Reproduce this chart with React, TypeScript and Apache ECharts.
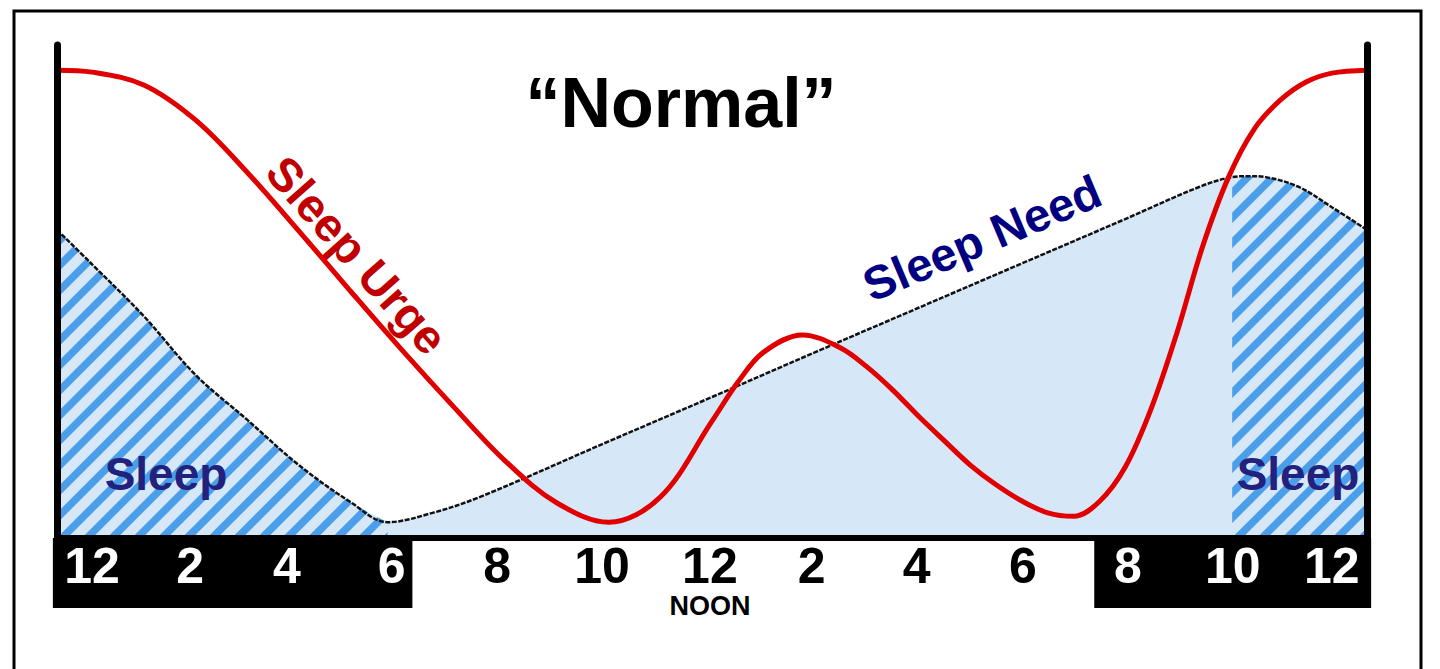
import React, { useEffect, useRef } from 'react';
import * as echarts from 'echarts';

// Sleep Urge (red) curve: hour of day (0 = midnight) and relative level (0-100)
const urgeHours = [-0.68, 0, 1, 2, 3, 4, 5, 6, 7, 8, 9, 10, 11, 12, 12.5, 13, 13.75, 14.5, 15, 15.5, 16, 16.5, 17, 17.5, 18, 18.5, 19, 19.5, 20, 20.5, 21, 21.5, 22, 22.5, 23, 23.5, 24, 24.68];
const urgeValues = [94.9, 94.5, 91.9, 84.8, 74.2, 62.3, 50.1, 38.1, 26.6, 15.6, 7.1, 3.2, 8.3, 23.7, 31.6, 37.7, 41.2, 38.5, 34.7, 30.0, 24.7, 19.7, 14.8, 10.8, 7.5, 5.1, 4.4, 7.4, 14.4, 26.2, 41.6, 59.2, 73.2, 83.0, 88.8, 92.5, 94.3, 94.9];

// Sleep Need (black line, light blue area)
const needHours = [-0.68, 0, 1, 2, 3, 4, 5, 5.72, 6.59, 7.5, 10, 12, 14, 16, 18, 20, 21.43, 22.07, 22.4, 22.72, 23.36, 24.0, 24.68];
const needValues = [62.5, 55.5, 45.0, 33.1, 24.0, 14.8, 7.3, 3.2, 5.1, 8.3, 19.6, 28.6, 37.7, 46.7, 55.7, 64.7, 71.2, 73.2, 73.4, 73.2, 71.2, 67.1, 62.5];

// Hatched sleep periods
const sleepEndMorning = 5.72;
const sleepStartNight = 22.07;

// Axis tick labels (positions as they sit in the picture) and texts
const tickHours = [0, 1.9, 3.77, 5.8, 7.84, 9.87, 11.96, 13.93, 15.96, 18.02, 20.05, 22.08, 24.0];
const tickLabels = ['12', '2', '4', '6', '8', '10', '12', '2', '4', '6', '8', '10', '12'];
const noonIndex = 6;
const noonLabel = 'NOON';

// Dark (night) bands behind the hour labels
const bandStart = [-0.76, 19.4];
const bandEnd = [6.2, 24.76];

const xMin = -0.68;
const xMax = 24.68;
const yMin = 0;
const yMax = 100;

const FONT = '"Liberation Sans", Arial, Helvetica, sans-serif';
const HATCH_W = 1450;
const HATCH_H = 700;

function makeHatch(): string {
  const period = 25;
  const c = document.createElement('canvas');
  c.width = HATCH_W;
  c.height = HATCH_H;
  const ctx = c.getContext('2d')!;
  ctx.fillStyle = '#d6e8f8';
  ctx.fillRect(0, 0, HATCH_W, HATCH_H);
  ctx.strokeStyle = '#4a9eea';
  ctx.lineWidth = 7.5;
  for (let k = -2; k * period < HATCH_W + HATCH_H + period * 2; k++) {
    const s = k * period;
    ctx.beginPath();
    ctx.moveTo(s - HATCH_H - 10, HATCH_H + 10);
    ctx.lineTo(s + 10, -10);
    ctx.stroke();
  }
  return c.toDataURL('image/png');
}

export default function App() {
  const ref = useRef<HTMLDivElement>(null);

  useEffect(() => {
    const chart = echarts.init(ref.current!, null, { renderer: 'svg' });
    const need = needHours.map((h, i) => [h, needValues[i]]);
    const urge = urgeHours.map((h, i) => [h, urgeValues[i]]);
    const hatchLeft = need.filter((p) => p[0] <= sleepEndMorning);
    const hatchRight = need.filter((p) => p[0] >= sleepStartNight);
    const bands = bandStart.map((s, i) => [s, bandEnd[i]]);
    const hatchImg = makeHatch();
    const hatchPattern: any = { image: hatchImg, repeat: 'repeat', imageWidth: HATCH_W, imageHeight: HATCH_H };

    const inBand = (v: number) => bands.some((b) => v >= b[0] && v <= b[1]);

    const yAxisCommon = {
      type: 'value',
      min: yMin,
      max: yMax,
      z: 10,
      axisLine: { show: true, onZero: false, lineStyle: { color: '#000', width: 7 } },
      axisTick: { show: false },
      axisLabel: { show: false },
      splitLine: { show: false },
    };

    const option: any = {
      animation: false,
      backgroundColor: '#fff',
      grid: { left: 57, right: 73, top: 45, bottom: 131, containLabel: false, outerBoundsMode: 'none' },
      xAxis: {
        type: 'value',
        min: xMin,
        max: xMax,
        z: 10,
        axisLine: { show: true, onZero: false, lineStyle: { color: '#000', width: 6 } },
        axisTick: { show: false },
        splitLine: { show: false },
        axisLabel: {
          customValues: tickHours,
          margin: 3,
          verticalAlign: 'top',
          fontFamily: FONT,
          fontSize: 50,
          fontWeight: 'bold',
          lineHeight: 50,
          color: (v: number) => (inBand(v) ? '#fff' : '#000'),
          formatter: (v: number) => {
            const i = tickHours.indexOf(v);
            const t = i >= 0 ? tickLabels[i] : '';
            return i === noonIndex ? `{d|${t}}\n{n|${noonLabel}}` : `{d|${t}}`;
          },
          rich: {
            d: { fontFamily: FONT, fontSize: 50, fontWeight: 'bold', lineHeight: 50 },
            n: { fontFamily: FONT, fontSize: 27, fontWeight: 'bold', lineHeight: 29, color: '#000' },
          },
        },
      },
      yAxis: [
        { ...yAxisCommon, position: 'left' },
        { ...yAxisCommon, position: 'right' },
      ],
      series: [
        {
          type: 'custom',
          name: 'night',
          z: 1,
          silent: true,
          clip: false,
          data: bands,
          renderItem: (params: any, api: any) => {
            const s = api.coord([api.value(0), 0]);
            const e = api.coord([api.value(1), 0]);
            return {
              type: 'rect',
              shape: { x: s[0], y: s[1], width: e[0] - s[0], height: 70 },
              style: { fill: '#000' },
            };
          },
        },
        {
          type: 'line',
          name: 'needFill',
          z: 2,
          data: need,
          smooth: 0.35,
          symbol: 'none',
          silent: true,
          lineStyle: { width: 0, opacity: 0 },
          areaStyle: { color: '#d6e8f8', opacity: 1 },
        },
        {
          type: 'line',
          name: 'hatchLeft',
          z: 3,
          data: hatchLeft,
          smooth: 0.35,
          symbol: 'none',
          silent: true,
          lineStyle: { width: 0, opacity: 0 },
          areaStyle: { color: hatchPattern, opacity: 1 },
        },
        {
          type: 'line',
          name: 'hatchRight',
          z: 3,
          data: hatchRight,
          smooth: 0.35,
          symbol: 'none',
          silent: true,
          lineStyle: { width: 0, opacity: 0 },
          areaStyle: { color: hatchPattern, opacity: 1 },
        },
        {
          type: 'line',
          name: 'Sleep Need',
          z: 4,
          data: need,
          smooth: 0.35,
          symbol: 'none',
          silent: true,
          lineStyle: { color: '#111', width: 2.5, type: [5, 1.5] },
        },
        {
          type: 'line',
          name: 'Sleep Urge',
          z: 5,
          data: urge,
          smooth: 0.35,
          symbol: 'none',
          silent: true,
          lineStyle: { color: '#e10000', width: 5 },
        },
      ],
      graphic: {
        elements: [
          {
            type: 'rect',
            z: 0,
            silent: true,
            shape: { x: 14, y: 11, width: 1407, height: 700 },
            style: { fill: 'none', stroke: '#000', lineWidth: 3 },
          },
          {
            type: 'text',
            z: 100,
            x: 681,
            y: 103,
            style: {
              text: '\u201CNormal\u201D',
              fill: '#000',
              fontFamily: FONT,
              fontSize: 70,
              fontWeight: 'bold',
              align: 'center',
              verticalAlign: 'middle',
            },
          },
          {
            type: 'text',
            z: 100,
            x: 357,
            y: 255,
            rotation: -0.846,
            style: {
              text: 'Sleep Urge',
              fill: '#c00000',
              fontFamily: FONT,
              fontSize: 47,
              fontWeight: 'bold',
              align: 'center',
              verticalAlign: 'middle',
            },
          },
          {
            type: 'text',
            z: 100,
            x: 982,
            y: 238,
            rotation: 0.4,
            style: {
              text: 'Sleep Need',
              fill: '#000080',
              fontFamily: FONT,
              fontSize: 47,
              fontWeight: 'bold',
              align: 'center',
              verticalAlign: 'middle',
            },
          },
          {
            type: 'text',
            z: 100,
            x: 166,
            y: 474,
            style: {
              text: 'Sleep',
              fill: '#22227e',
              fontFamily: FONT,
              fontSize: 46,
              fontWeight: 'bold',
              align: 'center',
              verticalAlign: 'middle',
            },
          },
          {
            type: 'text',
            z: 100,
            x: 1298,
            y: 474,
            style: {
              text: 'Sleep',
              fill: '#22227e',
              fontFamily: FONT,
              fontSize: 46,
              fontWeight: 'bold',
              align: 'center',
              verticalAlign: 'middle',
            },
          },
        ],
      },
    };

    chart.setOption(option);
    return () => chart.dispose();
  }, []);

  return (
    <div
      ref={ref}
      style={{ position: 'fixed', left: 0, top: 0, width: 1440, height: 669, background: '#fff' }}
    />
  );
}
